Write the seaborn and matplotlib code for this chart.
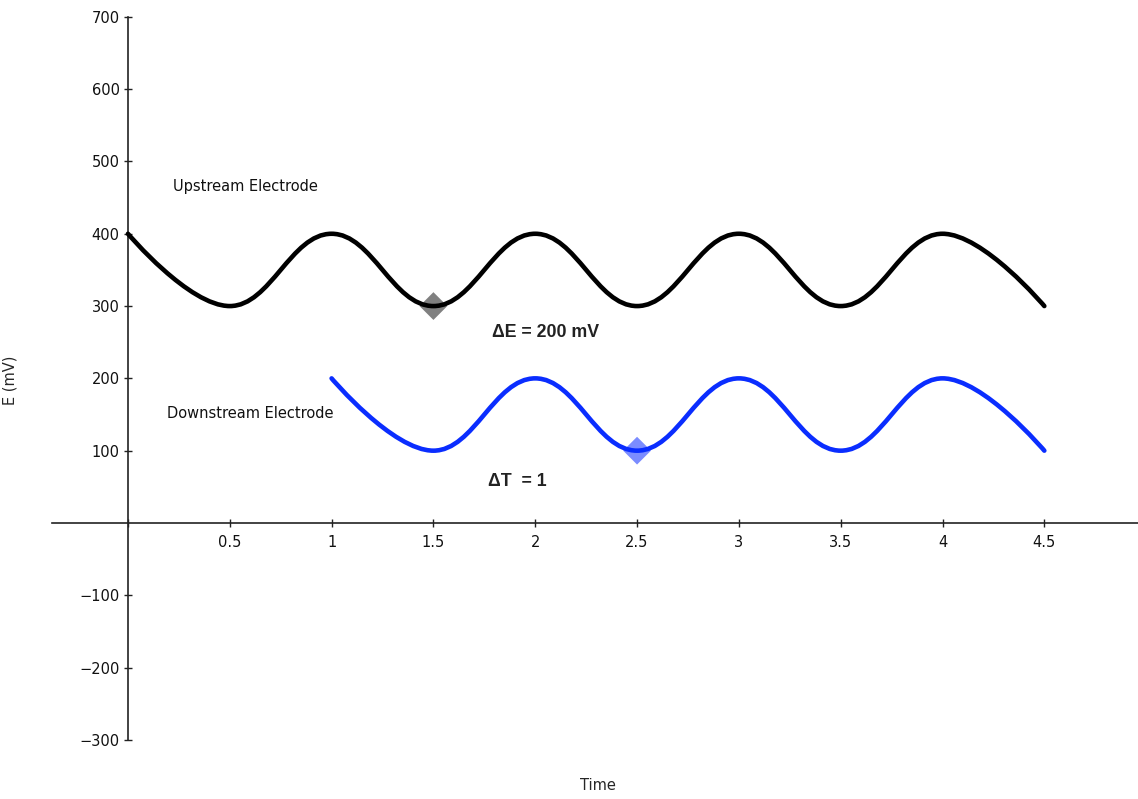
import matplotlib
matplotlib.use("Agg")
import matplotlib.pyplot as plt
from matplotlib.path import Path
from matplotlib.patches import PathPatch
import pandas as pd
import seaborn as sns

# data points (the curves are smooth splines through them)
upstream_t = [0, 0.5, 1, 1.5, 2, 2.5, 3, 3.5, 4, 4.5]
upstream_E = [400, 300, 400, 300, 400, 300, 400, 300, 400, 300]
downstream_t = [1, 1.5, 2, 2.5, 3, 3.5, 4, 4.5]
downstream_E = [200, 100, 200, 100, 200, 100, 200, 100]

marker_t = [1.5, 2.5]
marker_E = [300, 100]
marker_series = ["up", "down"]

x_ticks = [0.5, 1, 1.5, 2, 2.5, 3, 3.5, 4, 4.5]
x_labels = ["0.5", "1", "1.5", "2", "2.5", "3", "3.5", "4", "4.5"]
y_ticks = [-300, -200, -100, 100, 200, 300, 400, 500, 600, 700]


def spline_path(xs, ys, smoothing=1.5):
    # cubic bezier spline through the points
    n = len(xs)
    left, right = [None] * n, [None] * n
    for i in range(1, n - 1):
        lx = (smoothing * xs[i] + xs[i - 1]) / (smoothing + 1)
        ly = (smoothing * ys[i] + ys[i - 1]) / (smoothing + 1)
        rx = (smoothing * xs[i] + xs[i + 1]) / (smoothing + 1)
        ry = (smoothing * ys[i] + ys[i + 1]) / (smoothing + 1)
        corr = (ry - ly) * (rx - xs[i]) / (rx - lx) + ys[i] - ry
        left[i], right[i] = (lx, ly + corr), (rx, ry + corr)
    verts = [(xs[0], ys[0])]
    codes = [Path.MOVETO]
    for i in range(1, n):
        c1 = right[i - 1] or (xs[i - 1], ys[i - 1])
        c2 = left[i] or (xs[i], ys[i])
        verts += [c1, c2, (xs[i], ys[i])]
        codes += [Path.CURVE4] * 3
    return Path(verts, codes)


sns.set_style("white")
plt.rcParams["font.family"] = ["DejaVu Sans"]

fig = plt.figure(figsize=(11.38, 7.99), dpi=100)
ax = fig.add_axes([0.0457, 0.0378, 0.9543, 0.9592])

# diamonds sit under the lines
markers = pd.DataFrame({"Time": marker_t, "E": marker_E, "series": marker_series})
sns.scatterplot(data=markers, x="Time", y="E", hue="series", marker="D", s=200,
                palette={"up": "#808080", "down": "#7b8cff"}, linewidth=0,
                legend=False, ax=ax, zorder=2)

ax.add_patch(PathPatch(spline_path(upstream_t, upstream_E), fill=False, edgecolor="black",
                       linewidth=3.3, capstyle="round", joinstyle="round", zorder=3))
ax.add_patch(PathPatch(spline_path(downstream_t, downstream_E), fill=False, edgecolor="#0a2dff",
                       linewidth=3.3, capstyle="round", joinstyle="round", zorder=3))

ax.set_xlim(-0.373, 4.96)
ax.set_ylim(-340, 720)

for s in ["top", "right"]:
    ax.spines[s].set_visible(False)
ax.spines["left"].set_position(("data", 0))
ax.spines["bottom"].set_position(("data", 0))
ax.spines["left"].set_bounds(-300, 700)
for s in ["left", "bottom"]:
    ax.spines[s].set_color("#222222")
    ax.spines[s].set_linewidth(1.2)

ax.set_xticks([0] + x_ticks)
ax.set_xticklabels([""] + x_labels)
ax.set_yticks(y_ticks)
ax.set_yticklabels([str(v).replace("-", "\u2212") for v in y_ticks])
ax.tick_params(axis="both", direction="inout", length=6, width=1, color="#222222",
               labelsize=10.5, labelcolor="#111111", bottom=True, left=True)
ax.tick_params(axis="x", pad=6)
ax.tick_params(axis="y", pad=3)
ax.set_xlabel("")
ax.set_ylabel("")

ax.text(0.22, 465, "Upstream Electrode", fontsize=10.5, color="#111111", va="center")
ax.text(0.19, 152, "Downstream Electrode", fontsize=10.5, color="#111111", va="center")
ax.text(1.79, 263, "\u0394E = 200 mV", fontsize=12.8, fontweight="bold", color="#222222",
        va="center", family=["Liberation Sans", "DejaVu Sans"])
ax.text(1.77, 57, "\u0394T  = 1", fontsize=12.8, fontweight="bold", color="#222222",
        va="center", family=["Liberation Sans", "DejaVu Sans"])

fig.text(598 / 1138, 1 - 785 / 799, "Time", fontsize=10.5, ha="center", va="center")
fig.text(10 / 1138, 1 - 380 / 799, "E (mV)", fontsize=10.5, ha="center", va="center",
         rotation=90)

fig.savefig("out.png", dpi=100)
